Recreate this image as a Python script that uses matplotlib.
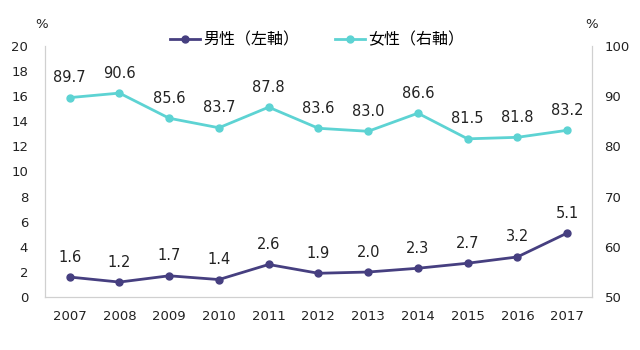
import matplotlib
matplotlib.use("Agg")
import matplotlib.pyplot as plt

plt.rcParams['font.family'] = ['DejaVu Sans', 'Noto Sans CJK JP']

years = ['2007', '2008', '2009', '2010', '2011', '2012', '2013', '2014', '2015', '2016', '2017']
male = [1.6, 1.2, 1.7, 1.4, 2.6, 1.9, 2.0, 2.3, 2.7, 3.2, 5.1]
female = [89.7, 90.6, 85.6, 83.7, 87.8, 83.6, 83.0, 86.6, 81.5, 81.8, 83.2]
male_label = '男性（左軸）'
female_label = '女性（右軸）'

c_male = '#463f80'
c_female = '#5dd3d3'
axis_c = '#d0d0d0'
txt = '#222222'

fig = plt.figure(figsize=(6.4, 3.5), dpi=100)
ax = fig.add_axes([0.070, 0.151, 0.855, 0.718])
ax2 = ax.twinx()

x = list(range(len(years)))
l1, = ax.plot(x, male, color=c_male, lw=2, marker='o', ms=5, label=male_label)
l2, = ax2.plot(x, female, color=c_female, lw=2, marker='o', ms=5, label=female_label)

ax.set_xlim(-0.5, len(years) - 0.5)
ax.set_ylim(0, 20)
ax.set_yticks(range(0, 21, 2))
ax2.set_ylim(50, 100)
ax2.set_yticks(range(50, 101, 10))
ax.set_xticks(x)
ax.set_xticklabels(years)

for a in (ax, ax2):
    a.spines['top'].set_visible(False)
    a.spines['left'].set_color(axis_c)
    a.spines['right'].set_color(axis_c)
    a.spines['bottom'].set_color(axis_c)
    a.tick_params(length=0, labelsize=9.5, colors=txt)
ax.tick_params(axis='y', pad=12)
ax2.tick_params(axis='y', pad=9)
ax.tick_params(axis='x', pad=9)

for xi, v in zip(x, male):
    ax.annotate(f'{v:.1f}', (xi, v), xytext=(0, 9), textcoords='offset points',
                ha='center', va='bottom', fontsize=10.5, color=txt)
for xi, v in zip(x, female):
    ax2.annotate(f'{v:.1f}', (xi, v), xytext=(0, 9), textcoords='offset points',
                 ha='center', va='bottom', fontsize=10.5, color=txt)

fig.text(42 / 640, 1 - 25 / 350, '%', ha='center', va='center', fontsize=9.5, color=txt)
fig.text(592 / 640, 1 - 24 / 350, '%', ha='center', va='center', fontsize=9.5, color=txt)

fig.legend(handles=[l1, l2], loc='center', bbox_to_anchor=(317 / 640, 1 - 40 / 350),
           ncol=2, frameon=False, handlelength=1.9, columnspacing=2.2,
           handletextpad=0.2, prop={'family': ['Noto Sans CJK JP', 'DejaVu Sans'], 'size': 11.5})

fig.savefig('out.png', dpi=100)
